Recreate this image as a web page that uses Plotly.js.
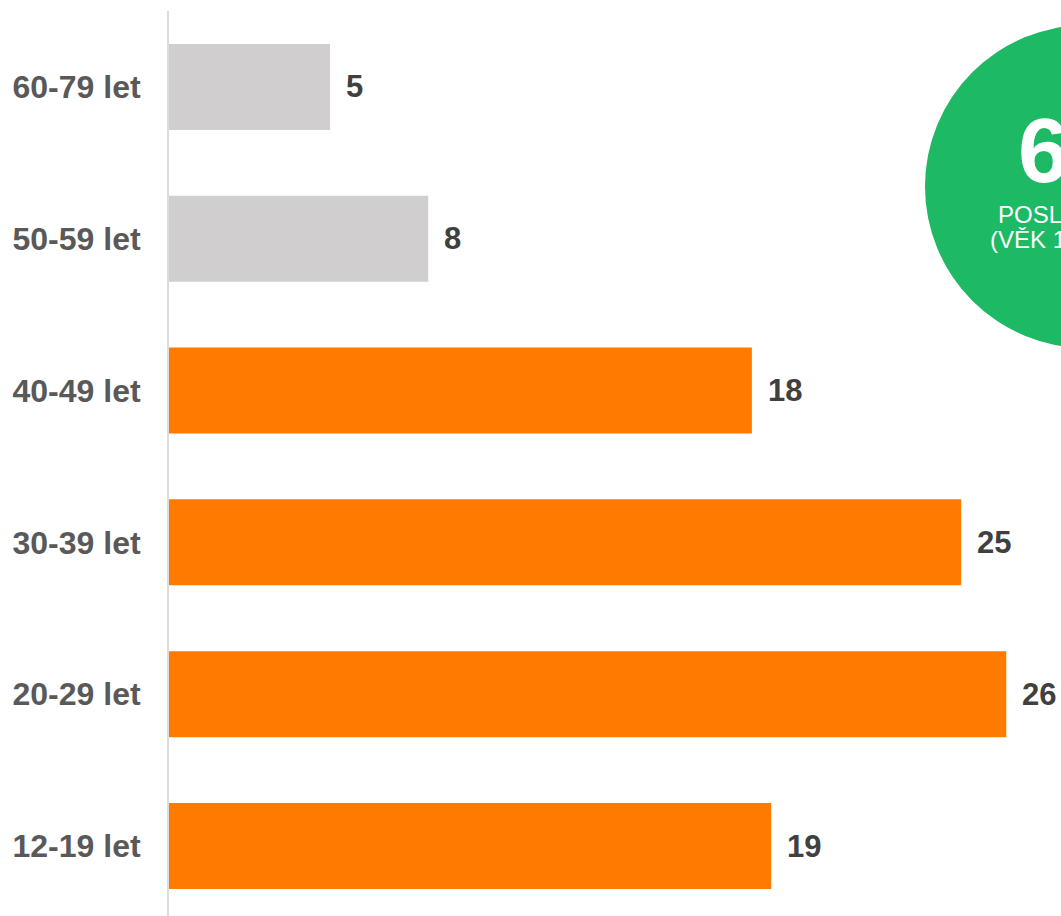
<!DOCTYPE html>
<html>
<head>
<meta charset="utf-8">
<script src="https://cdn.plot.ly/plotly-3.0.1.min.js"></script>
<style>
html,body{margin:0;padding:0;background:#fff;overflow:hidden;}
#chart{width:1061px;height:916px;}
</style>
</head>
<body>
<div id="chart"></div>
<script>
// Data (bottom to top)
const categories = ['12-19 let', '20-29 let', '30-39 let', '40-49 let', '50-59 let', '60-79 let'];
const values = [18.7, 26.0, 24.6, 18.1, 8.05, 5.0];
const valueLabels = ['19', '26', '25', '18', '8', '5'];
const barColors = ['#FF7B00', '#FF7B00', '#FF7B00', '#FF7B00', '#D0CECF', '#D0CECF'];

const badgeNumber = '6,1';
const badgeLine1 = 'POSLUCHAČŮ';
const badgeLine2 = '(VĚK 12-79 LET)';

const FONT = '"Liberation Sans", Arial, sans-serif';

const annotations = categories.map((c, i) => ({
  x: values[i], y: c, xref: 'x', yref: 'y',
  text: valueLabels[i], showarrow: false,
  xanchor: 'left', yanchor: 'middle', xshift: 14,
  font: {family: FONT, size: 31, color: '#404040', weight: 'bold'}
}));

const badgeX = 1.023;
annotations.push(
  {xref: 'paper', yref: 'paper', x: badgeX, y: 0.846, text: badgeNumber, showarrow: false,
   xanchor: 'center', yanchor: 'middle', font: {family: FONT, size: 91, color: '#ffffff', weight: 'bold'}},
  {xref: 'paper', yref: 'paper', x: badgeX, y: 0.7757, text: badgeLine1, showarrow: false,
   xanchor: 'center', yanchor: 'middle', font: {family: FONT, size: 24, color: '#ffffff'}},
  {xref: 'paper', yref: 'paper', x: badgeX, y: 0.747, text: badgeLine2, showarrow: false,
   xanchor: 'center', yanchor: 'middle', font: {family: FONT, size: 24, color: '#ffffff'}}
);

const trace = {
  type: 'bar', orientation: 'h',
  x: values, y: categories,
  marker: {color: barColors, line: {width: 0}},
  hoverinfo: 'skip'
};

const layout = {
  width: 1061, height: 916,
  margin: {l: 169, r: 0, t: 11, b: 0, pad: 0},
  paper_bgcolor: '#ffffff', plot_bgcolor: '#ffffff',
  showlegend: false,
  bargap: 0.4335,
  xaxis: {range: [0, 27.7], visible: false, showgrid: false, zeroline: false, fixedrange: true},
  yaxis: {
    type: 'category', categoryorder: 'array', categoryarray: categories,
    range: [-0.461, 5.5],
    showline: true, linecolor: '#dcdcdc', linewidth: 2,
    showgrid: false, zeroline: false,
    ticks: 'outside', ticklen: 20, tickcolor: 'rgba(0,0,0,0)',
    tickfont: {family: FONT, size: 32, color: '#595959', weight: 'bold'},
    fixedrange: true
  },
  shapes: [{
    type: 'circle', xref: 'paper', yref: 'paper',
    x0: 0.8475, x1: 1.2096, y0: 0.6276, y1: 0.9845,
    fillcolor: '#1DB964', line: {width: 0}, layer: 'above'
  }],
  annotations: annotations
};

Plotly.newPlot('chart', [trace], layout, {displayModeBar: false, staticPlot: true});
</script>
</body>
</html>
